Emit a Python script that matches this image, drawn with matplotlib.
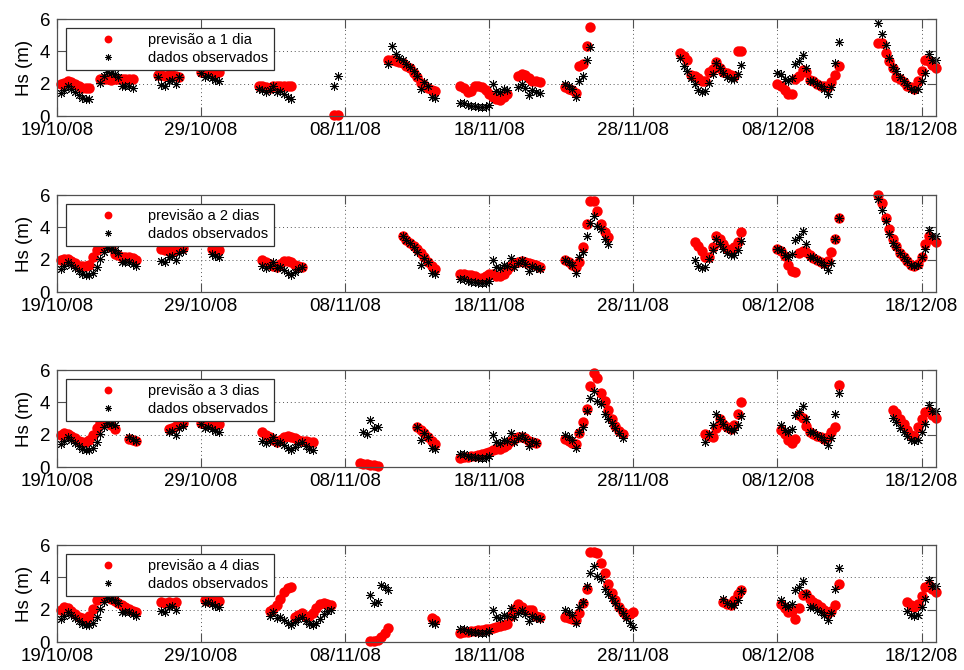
import numpy as np
import matplotlib
matplotlib.use("Agg")
import matplotlib.pyplot as plt

plt.rcParams['font.family'] = ['Liberation Sans', 'DejaVu Sans']

# ---- Data: Hs (m), sampled every 6 h, time in days since 19/10/08 ----

STEP = 0.25
N_DAYS = 61.0

tick_days = [0, 10, 20, 30, 40, 50, 60]
tick_labels = ["19/10/08", "29/10/08", "08/11/08", "18/11/08",
               "28/11/08", "08/12/08", "18/12/08"]
y_ticks = [0, 2, 4, 6]

forecast_labels = ["previsão a 1 dia", "previsão a 2 dias",
                   "previsão a 3 dias", "previsão a 4 dias"]
obs_label = "dados observados"

# (start day, values every STEP days)
obs_segments = [
    (0.25, [1.45, 1.6, 1.85, 1.7, 1.5, 1.3, 1.15, 1.05, 1.05, 1.2, 1.55,
            2.05, 2.5, 2.75, 2.7, 2.6, 2.4, 1.85, 1.9, 1.85, 1.75, 1.6]),
    (7.0, [2.45, 1.95, 1.85, 2.2, 2.25, 2.0, 2.4, 2.55]),
    (10.0, [2.7, 2.45, 2.5, 2.35, 2.25, 2.2]),
    (14.0, [1.7, 1.6, 1.5, 1.6, 1.85, 1.5, 1.55, 1.4, 1.2, 1.05, 1.25, 1.45,
            1.55, 1.3, 1.1, 1.05, 1.2, 1.45, 1.75, 1.95, 2.0, 1.85, 2.5]),
    (21.25, [2.15, 2.05, 2.9, 2.45, 2.5, 3.55, 3.4, 3.2, 4.35, 3.85, 3.6,
             3.45, 3.25, 3.05, 2.8, 2.5, 1.7, 2.1, 1.9, 1.2, 1.15]),
    (27.75, [0.85, 0.85, 0.8, 0.7, 0.65, 0.65, 0.6, 0.6, 0.6, 0.7, 2.0, 1.55,
             1.5, 1.7, 1.6, 2.1, 1.55, 1.8, 2.0, 1.75, 1.3, 1.6, 1.5, 1.45]),
    (35.25, [2.0, 1.9, 1.7, 1.2, 2.2, 2.5, 3.5, 4.3, 4.7, 4.1, 3.9, 3.3, 3.0,
             2.75, 2.4, 2.1, 1.8, 1.5, 1.2, 0.95]),
    (43.25, [3.6, 3.1, 2.8, 2.35, 2.0, 1.6, 1.5, 1.55, 2.05, 2.6, 3.3, 2.95,
             2.7, 2.45, 2.3, 2.3, 2.6, 3.15]),
    (50.0, [2.65, 2.6, 2.3, 2.2, 2.35, 3.2, 3.4, 3.8, 3.0, 2.2, 2.15, 2.0,
            1.85, 1.7, 1.35, 1.8, 3.3, 4.6]),
    (57.0, [5.75, 5.1, 4.4, 3.6, 3.05, 2.8, 2.45, 2.2, 1.95, 1.7, 1.6, 1.7,
            2.2, 2.7, 3.85, 3.45, 3.5]),
]

fc1_segments = [
    (0.25, [2.0, 2.05, 2.15, 2.1, 2.0, 1.85, 1.75, 1.75, 1.75]),
    (3.0, [2.3, 2.3, 2.3, 2.25, 2.3, 2.3, 2.3, 2.3, 2.3, 2.3]),
    (7.0, [2.55, 2.55, 2.5, 2.55, 2.55, 2.5, 2.45]),
    (10.0, [2.75, 2.8, 2.75, 2.75, 2.7, 2.75]),
    (14.0, [1.9, 1.85, 1.8, 1.75, 1.9, 1.9, 1.85, 1.9, 1.85, 1.85]),
    (19.25, [0.1, 0.1]),
    (23.0, [3.45, 3.45, 3.4, 3.35, 3.3, 3.1, 2.95, 2.65, 2.4, 2.05, 1.95,
            1.75, 1.65, 1.55]),
    (28.0, [1.85, 1.75, 1.5, 1.55, 1.85, 1.9, 1.8, 1.6, 1.4, 1.2, 1.05, 1.0,
            1.2, 1.4]),
    (32.0, [2.5, 2.6, 2.55, 2.35, 2.2, 2.15, 2.1]),
    (35.25, [1.8, 1.7, 1.6, 1.45, 3.1, 3.2, 4.35, 5.5]),
    (43.25, [3.9, 3.7, 3.5, 2.55, 2.5, 2.35, 2.2, 2.2, 2.75, 2.9, 3.35, 3.0,
             2.75, 2.65, 2.55, 2.5, 4.05, 4.05]),
    (50.0, [2.0, 1.9, 1.65, 1.4, 1.35, 2.3, 2.5, 2.85, 2.75, 2.25, 2.2, 2.0,
            1.9, 1.85, 1.8, 2.1, 2.55, 3.1]),
    (57.0, [4.5, 4.5, 3.9, 3.4, 3.0, 2.4, 2.3, 2.1, 1.9, 1.8, 1.7, 2.2, 2.8,
            3.45, 3.4, 3.15, 3.0]),
]

fc2_segments = [
    (0.25, [2.0, 2.05, 2.05, 1.95, 1.8, 1.65, 1.6, 1.6, 1.7, 2.15, 2.6, 2.8,
            3.0, 3.0, 2.8, 2.35, 2.3, 2.2, 2.15, 2.15, 2.1, 2.0]),
    (7.25, [2.65, 2.6, 2.55, 2.5, 2.6, 2.7, 2.75]),
    (10.75, [2.7, 2.6, 2.6]),
    (14.25, [2.0, 1.85, 1.75, 1.6, 1.55, 1.75, 1.95, 1.95, 1.85, 1.7, 1.6,
             1.55]),
    (24.0, [3.45, 3.25, 3.05, 2.85, 2.65, 2.4, 2.15, 1.9, 1.65, 1.45]),
    (28.0, [1.1, 1.1, 1.05, 1.05, 1.0, 0.9, 0.9, 1.0, 1.1, 1.15, 1.0, 1.0,
            1.1, 1.35, 1.6, 1.8, 1.9, 1.95, 1.9, 1.8, 1.75, 1.7, 1.55]),
    (35.25, [2.0, 1.85, 1.7, 1.55, 1.9, 2.8, 4.2, 5.65, 5.65, 5.0, 4.2, 3.75,
             3.4]),
    (44.25, [3.1, 2.85, 2.55, 2.2, 2.15, 2.8, 3.45, 3.3, 2.95, 2.7, 2.6, 2.8,
             3.1, 3.7]),
    (50.0, [2.65, 2.55, 2.25, 1.7, 1.3, 1.25, 2.45, 2.55, 2.5, 2.3, 2.1, 2.0,
            1.9, 1.8, 1.95, 2.5, 3.3, 4.6]),
    (57.0, [6.0, 5.5, 4.6, 3.9, 3.3, 2.85, 2.45, 2.2, 1.95, 1.7, 1.6, 1.75,
            2.2, 3.0, 3.45, 3.3, 3.1]),
]

fc3_segments = [
    (0.25, [2.0, 2.1, 2.05, 1.95, 1.8, 1.6, 1.55, 1.55, 1.7, 2.0, 2.45, 2.75,
            2.9, 2.8, 2.6, 2.35]),
    (5.0, [1.75, 1.7, 1.65]),
    (7.75, [2.35, 2.45, 2.55, 2.65, 2.75]),
    (10.0, [2.75, 2.7, 2.7, 2.65, 2.7, 2.7]),
    (14.25, [2.15, 2.0, 1.85, 1.7, 1.55, 1.7, 1.9, 1.95, 1.9, 1.8, 1.7, 1.65,
             1.6, 1.55, 1.55]),
    (21.0, [0.25, 0.22, 0.18, 0.15, 0.12, 0.1]),
    (25.0, [2.5, 2.3, 2.1, 1.85, 1.65, 1.45]),
    (28.0, [0.6, 0.65, 0.65, 0.7, 0.7, 0.75, 0.8, 0.9, 0.95, 1.05, 1.1, 1.15,
            1.25, 1.4, 1.6, 1.75, 1.85, 1.9, 1.8, 1.65, 1.55, 1.5]),
    (35.25, [1.75, 1.6, 1.5, 1.45, 2.1, 2.8, 3.6, 5.0, 5.8, 5.5, 4.6, 4.1,
             3.55, 2.95, 2.55, 2.25, 2.05]),
    (45.0, [2.05, 1.95, 1.85, 2.4, 2.95, 2.65, 2.5, 2.35, 2.6, 3.3, 4.0]),
    (50.25, [2.3, 2.05, 1.7, 1.5, 1.75, 3.2, 3.05, 2.55, 2.2, 2.05, 1.95,
             1.85, 1.75, 1.85, 2.2, 2.5, 5.1]),
    (58.0, [3.55, 3.35, 3.0, 2.65, 2.3, 2.0, 1.95, 2.5, 3.0, 3.4, 3.45, 3.25,
            3.05]),
]

fc4_segments = [
    (0.25, [2.0, 2.15, 2.1, 1.95, 1.75, 1.55, 1.5, 1.45, 1.6, 2.05, 2.6, 2.8,
            2.9, 2.8, 2.65, 2.55, 2.4, 2.3, 2.15, 2.05, 1.95, 1.9]),
    (7.25, [2.5, 2.45, 2.5, 2.45, 2.5]),
    (10.25, [2.6, 2.55, 2.6, 2.55, 2.55]),
    (14.75, [1.95, 2.05, 2.3, 2.7, 3.1, 3.35, 3.4, 1.55, 1.7, 1.8, 1.55, 1.6,
             1.8, 2.1, 2.35, 2.4, 2.35, 2.3]),
    (21.75, [0.1, 0.1, 0.15, 0.3, 0.6, 0.9]),
    (26.0, [1.5, 1.4]),
    (28.0, [0.6, 0.65, 0.65, 0.7, 0.7, 0.75, 0.75, 0.8, 0.85, 0.9, 0.95, 1.0,
            1.05, 1.15, 1.6, 2.05, 2.35, 2.2, 2.0, 2.0, 2.0, 1.6, 1.55]),
    (35.25, [1.55, 1.5, 1.45, 1.4, 1.8, 2.4, 3.3, 5.6, 5.6, 5.5, 4.9, 4.3,
             3.6, 3.05, 2.6, 2.15, 1.9, 1.7, 1.75, 1.9]),
    (46.25, [2.5, 2.35, 2.3, 2.6, 2.95, 3.25]),
    (50.25, [2.35, 2.1, 1.9, 1.95, 1.45, 2.1, 2.9, 2.95, 2.7, 2.5, 2.35, 2.2,
             2.0, 1.8, 1.95, 2.3, 3.6]),
    (59.0, [2.5, 2.3, 2.2, 2.35, 2.85, 3.4, 3.55, 3.3, 3.1]),
]

forecast_segments = [fc1_segments, fc2_segments, fc3_segments, fc4_segments]

t_days = np.arange(0, N_DAYS + STEP / 2, STEP)


def to_series(segments):
    y = np.full(t_days.size, np.nan)
    for start, vals in segments:
        i0 = int(round(start / STEP))
        y[i0:i0 + len(vals)] = vals
    return y


obs = to_series(obs_segments)

# ---- Plot ----

fig = plt.figure(figsize=(9.64, 6.70), dpi=100)
left, width, height = 0.0591, 0.9118, 0.1452
bottoms = [0.8264, 0.5637, 0.3025, 0.0413]
frame_col = '#505050'

for k, segs in enumerate(forecast_segments):
    ax = fig.add_axes([left, bottoms[k], width, height])
    fc = to_series(segs)
    shown = ~np.isnan(fc) & ~np.isnan(obs)

    ax.plot(t_days, fc, linestyle='none', marker='o', markersize=7.5,
            markeredgewidth=0, color='#ff0000', clip_on=False,
            label=forecast_labels[k])
    ax.plot(t_days[shown], obs[shown], linestyle='none', marker=(8, 2, 0),
            markersize=6.5, markeredgewidth=0.7, color='black', clip_on=False,
            label=obs_label)

    ax.set_xlim(0, N_DAYS)
    ax.set_ylim(0, 6)
    ax.set_xticks(tick_days)
    ax.set_xticklabels(tick_labels)
    ax.set_yticks(y_ticks)
    ax.grid(True, linestyle=(0, (1, 3)), color='#555555', linewidth=0.7)
    ax.tick_params(direction='in', top=True, right=True, length=6.5,
                   width=0.8, color=frame_col, labelsize=13.5)
    ax.tick_params(axis='x', pad=4)
    ax.tick_params(axis='y', pad=5)
    for sp in ax.spines.values():
        sp.set_color(frame_col)
        sp.set_linewidth(0.9)
    ax.set_ylabel("Hs (m)", fontsize=13.5, labelpad=5)

    leg = ax.legend(loc='upper left', bbox_to_anchor=(0.0102, 0.907),
                    borderaxespad=0, fontsize=10.5, fancybox=False,
                    framealpha=1, edgecolor='#303030', handlelength=5.0,
                    handletextpad=0.3, borderpad=0.35, labelspacing=0.25,
                    markerscale=0.75)
    leg.get_frame().set_linewidth(0.9)
    leg.set_zorder(10)

fig.savefig("out.png", dpi=100)
